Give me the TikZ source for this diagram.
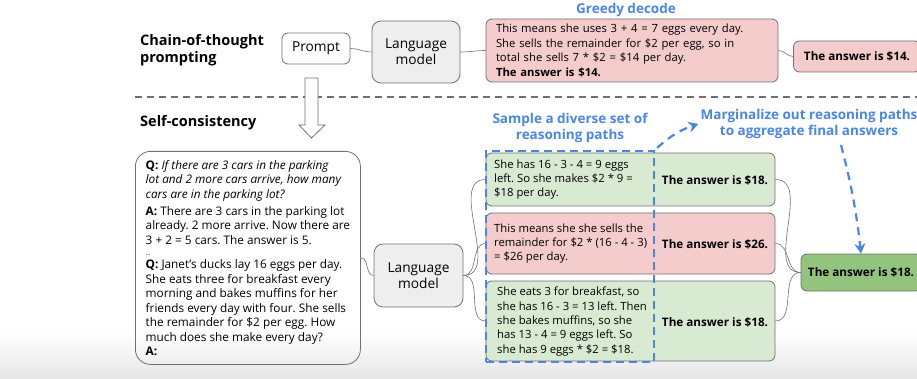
\documentclass[tikz,border=0pt]{standalone}
\usepackage{fontspec}
\setmainfont{Open Sans}
\frenchspacing
\usetikzlibrary{arrows.meta}
\definecolor{blau}{HTML}{4A86E8}
\definecolor{rosa}{HTML}{F4CCCC}
\definecolor{hellgruen}{HTML}{D9EAD3}
\definecolor{gruen}{HTML}{93C47D}
\definecolor{rahmen}{HTML}{707070}
\definecolor{modell}{HTML}{EEEEEE}
\tikzset{
	kasten/.style={draw=rahmen, line width=0.8pt, rounded corners=6pt, inner sep=0pt,
		font=\fontsize{11.8}{14.5}\selectfont},
	schrift/.style={font=\fontsize{11.3}{14.4}\selectfont, align=left, inner sep=0pt},
	fett/.style={font=\fontsize{11.7}{14.5}\selectfont\bfseries, inner sep=0pt},
	modellkasten/.style={kasten, font=\fontsize{13.7}{16}\selectfont, fill=modell,
		rounded corners=9pt, align=center},
	titel/.style={font=\fontsize{14.5}{17}\selectfont\bfseries, align=left, inner sep=0pt},
	blautitel/.style={font=\fontsize{13.5}{16}\selectfont\bfseries, text=blau, align=center,
		inner sep=0pt},
	verbindung/.style={draw=rahmen, line width=0.6pt},
	blaupfeil/.style={draw=blau, line width=2.2pt, dash pattern=on 8pt off 6pt,
		-{Stealth[length=10pt,width=11pt,fill=blau]}}
}
\begin{document}
\begin{tikzpicture}[x=1pt, y=-1pt]
	\useasboundingbox (0,0) rectangle (917,379);
	% Hintergrund unten
	\shade[top color=white, bottom color=black!10] (0,332) rectangle (917,379);

	% Chain-of-thought
	\node[titel, anchor=west] (cot) at (140,50.5) {Chain-of-thought\\prompting};
	\node[kasten, font=\fontsize{13.7}{16}\selectfont, minimum width=68, minimum height=31]
	(prompt) at (316,48.5) {Prompt};
	\node[modellkasten, minimum width=88, minimum height=62] (lmoben) at (416,52)
	{Language\\model};
	\node[blautitel] (greedy) at (626,10) {Greedy decode};
	\node[kasten, fill=rosa, font=\fontsize{11.3}{14.4}\selectfont, align=left, text width=272,
	inner xsep=10, minimum height=63] (greedybox) at (632,50.5)
	{This means she uses 3 + 4 = 7 eggs every day.\\
		She sells the remainder for \$2 per egg, so in\\
		total she sells 7 * \$2 = \$14 per day.\\
		\textbf{The answer is \$14.}};
	\node[kasten, fill=rosa, minimum width=127, minimum height=31] (greedyant) at (857,56.5)
	{\fontsize{11.7}{14.5}\selectfont\bfseries The answer is \$14.};
	\draw[verbindung] (prompt.east) to[out=0, in=180] (lmoben.west);
	\draw[verbindung] (lmoben.east) to[out=0, in=180] (greedybox.west);
	\draw[verbindung] (greedybox.east) to[out=0, in=180] (greedyant.west);

	% Trennlinie
	\draw[rahmen, line width=1.3pt, dash pattern=on 7pt off 5pt] (135,97) -- (917,97);

	% Self-consistency
	\node[titel, anchor=west] (sc) at (140,122.5) {Self-consistency};
	\draw[rahmen, line width=0.8pt, fill=white] (305,78) -- (318,78) -- (318,125) -- (325,125)
	-- (311.5,138) -- (299,125) -- (305,125) -- cycle;
	\node[kasten, rounded corners=15pt, align=left, minimum width=225,
	minimum height=213, anchor=north west] (frage) at (135,151)
	{\textbf{Q:} \textit{If there are 3 cars in the parking}\\
		\textit{lot and 2 more cars arrive, how many}\\
		\textit{cars are in the parking lot?}\\[2.5pt]
		\textbf{A:} There are 3 cars in the parking lot\\
		already. 2 more arrive. Now there are\\
		3 + 2 = 5 cars. The answer is 5.\\[-3pt]
		{\fontsize{6}{8}\selectfont ...}\\[-1.5pt]
		\textbf{Q:} Janet’s ducks lay 16 eggs per day.\\
		She eats three for breakfast every\\
		morning and bakes muffins for her\\
		friends every day with four. She sells\\
		the remainder for \$2 per egg. How\\
		much does she make every day?\\[0pt]
		\textbf{A:}};
	\node[modellkasten, minimum width=89, minimum height=63] (lmunten) at (418.5,275.5)
	{Language\\model};
	\draw[verbindung] (frage.east) to[out=0, in=180] (lmunten.west);

	% Argumentationspfade
	\node[kasten, fill=hellgruen, minimum width=289, minimum height=53] (pfad1) at (630.5,179.5) {};
	\node[schrift, anchor=west] (text1) at (494,179.5) {She has 16 - 3 - 4 = 9 eggs\\
		left. So she makes \$2 * 9 =\\ \$18 per day.};
	\node[fett] (ant1) at (715,180) {The answer is \$18.};
	\node[kasten, fill=rosa, minimum width=289, minimum height=61] (pfad2) at (630.5,243.5) {};
	\node[schrift, anchor=west] (text2) at (494,243.5) {This means she she sells the\\
		remainder for \$2 * (16 - 4 - 3)\\ = \$26 per day.};
	\node[fett] (ant2) at (715,244) {The answer is \$26.};
	\node[kasten, fill=hellgruen, minimum width=289, minimum height=80] (pfad3) at (630.5,321) {};
	\node[schrift, anchor=west] (text3) at (497,321.5) {She eats 3 for breakfast, so\\
		she has 16 - 3 = 13 left. Then\\ she bakes muffins, so she\\
		has 13 - 4 = 9 eggs left. So\\ she has 9 eggs * \$2 = \$18.};
	\node[fett] (ant3) at (715,322) {The answer is \$18.};
	\node[kasten, fill=gruen, minimum width=120, minimum height=37] (final) at (861,272.5)
	{\fontsize{11.7}{14.5}\selectfont\bfseries The answer is \$18.};
	\foreach \p in {pfad1,pfad2,pfad3} {
		\draw[verbindung] (lmunten.east) to[out=0, in=180] (\p.west);
		\draw[verbindung] (\p.east) to[out=0, in=180] (final.west);
	}

	% Blaue Markierung und Pfeile
	\node[draw=blau, line width=2.2pt, dash pattern=on 8pt off 5pt, inner sep=0pt,
	minimum width=168, minimum height=211] (auswahl) at (570,256.5) {};
	\node[blautitel] (sample) at (570,128) {Sample a diverse set of\\reasoning paths};
	\node[blautitel] (marg) at (809,124) {Marginalize out reasoning paths\\to aggregate final answers};
	\draw[blaupfeil] ([xshift=2pt, yshift=2pt]auswahl.north east) to[bend left=12]
	([xshift=-2pt]marg.west);
	\draw[blaupfeil] ([xshift=32pt, yshift=-6pt]marg.south) to[bend left=4] (final.north);
\end{tikzpicture}
\end{document}
